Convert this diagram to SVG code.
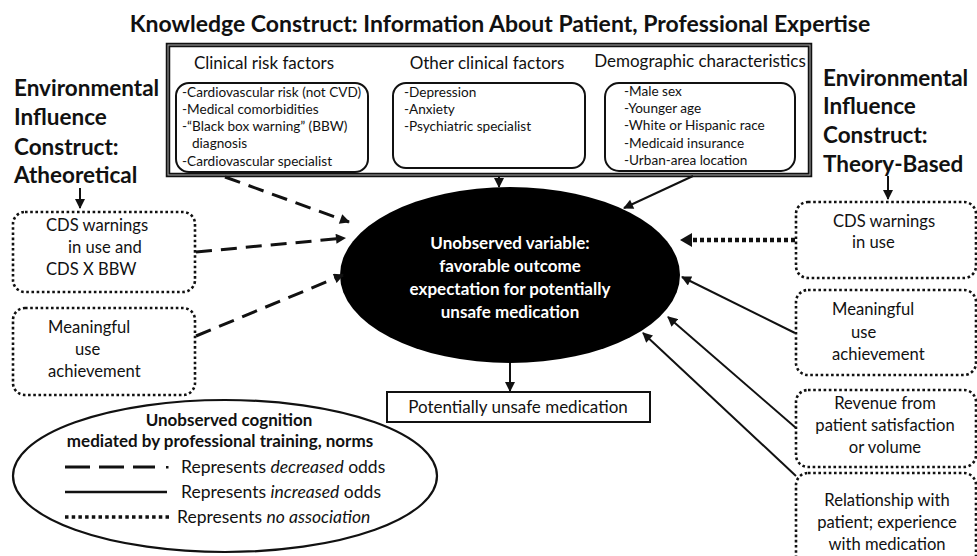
<svg xmlns="http://www.w3.org/2000/svg" width="977" height="556" viewBox="0 0 977 556">
  <style>
    text { font-family: Lato, "Liberation Sans", sans-serif; fill: #111; }
    .h { font-size: 22.5px; font-weight: bold; }
    .sub { font-size: 17px; }
    .item { font-size: 13.6px; }
    .box { font-size: 16.6px; }
    .inner { fill: none; stroke: #111; stroke-width: 2; }
    .dotbox { fill: #fff; stroke: #111; stroke-width: 2.6; stroke-dasharray: 2.6 2.6; }
    .dash { fill: none; stroke: #111; stroke-width: 3; stroke-dasharray: 16 9; }
    .solid { fill: none; stroke: #111; stroke-width: 2; }
    .dots { fill: none; stroke: #111; stroke-width: 4.5; stroke-dasharray: 4 3; }
    .mid { text-anchor: middle; }
    .core { font-size: 17px; font-weight: bold; fill: #fff; text-anchor: middle; }
  </style>
  <defs>
    <marker id="arrow" viewBox="0 0 10 10" refX="9" refY="5" markerWidth="11" markerHeight="10" markerUnits="userSpaceOnUse" orient="auto">
      <path d="M0,0 L10,5 L0,10 z" fill="#111"/>
    </marker>
  </defs>
  <rect width="977" height="556" fill="#fff"/>

  <!-- Knowledge construct header and container -->
  <g id="knowledge">
    <text class="h mid" x="500" y="32" style="font-size:23px">Knowledge Construct: Information About Patient, Professional Expertise</text>
    <rect x="168" y="45" width="642" height="130" fill="none" stroke="#111" stroke-width="4.5"/>
    <rect x="168" y="45" width="642" height="130" fill="none" stroke="#aaa" stroke-width="1"/>
  </g>

  <g id="clinical-risk">
    <text class="sub mid" x="264" y="69">Clinical risk factors</text>
    <rect class="inner" x="176" y="83" width="192" height="89" rx="13"/>
    <text class="item" x="182" y="97">-Cardiovascular risk (not CVD)</text>
    <text class="item" x="182" y="114">-Medical comorbidities</text>
    <text class="item" x="182" y="131">-“Black box warning” (BBW)</text>
    <text class="item" x="192" y="148">diagnosis</text>
    <text class="item" x="182" y="166">-Cardiovascular specialist</text>
  </g>

  <g id="other-clinical">
    <text class="sub mid" x="487" y="69">Other clinical factors</text>
    <rect class="inner" x="393" y="83" width="192" height="85" rx="13"/>
    <text class="item" x="404" y="97">-Depression</text>
    <text class="item" x="404" y="114">-Anxiety</text>
    <text class="item" x="404" y="131">-Psychiatric specialist</text>
  </g>

  <g id="demographic">
    <text class="sub mid" x="700" y="67">Demographic characteristics</text>
    <rect class="inner" x="605" y="83" width="190" height="88" rx="14"/>
    <text class="item" x="624" y="96">-Male sex</text>
    <text class="item" x="624" y="113">-Younger age</text>
    <text class="item" x="624" y="130">-White or Hispanic race</text>
    <text class="item" x="624" y="148">-Medicaid insurance</text>
    <text class="item" x="624" y="165">-Urban-area location</text>
  </g>

  <!-- Environmental construct headings -->
  <g id="atheoretical">
    <text class="h" x="14" y="96">Environmental</text>
    <text class="h" x="14" y="125">Influence</text>
    <text class="h" x="14" y="155">Construct:</text>
    <text class="h" x="14" y="183">Atheoretical</text>
  </g>
  <g id="theory-based">
    <text class="h" x="823" y="86">Environmental</text>
    <text class="h" x="823" y="114">Influence</text>
    <text class="h" x="823" y="143">Construct:</text>
    <text class="h" x="823" y="172">Theory-Based</text>
  </g>

  <!-- Atheoretical factors -->
  <g id="left-cds">
    <rect class="dotbox" x="13" y="212" width="182" height="80" rx="12"/>
    <text class="box" x="46" y="231">CDS warnings</text>
    <text class="box" x="68" y="253">in use and</text>
    <text class="box" x="46" y="275">CDS X BBW</text>
  </g>
  <g id="left-mu">
    <rect class="dotbox" x="13" y="308" width="182" height="87" rx="12"/>
    <text class="box" x="48" y="333">Meaningful</text>
    <text class="box" x="75" y="355">use</text>
    <text class="box" x="48" y="377">achievement</text>
  </g>

  <!-- Theory-based factors -->
  <g id="right-cds">
    <rect class="dotbox" x="796" y="202" width="180" height="76" rx="12"/>
    <text class="box mid" x="884" y="227">CDS warnings</text>
    <text class="box" x="852" y="248">in use</text>
  </g>
  <g id="right-mu">
    <rect class="dotbox" x="796" y="290" width="180" height="85" rx="12"/>
    <text class="box" x="832" y="315">Meaningful</text>
    <text class="box" x="851" y="338">use</text>
    <text class="box" x="832" y="360">achievement</text>
  </g>
  <g id="right-revenue">
    <rect class="dotbox" x="796" y="390" width="180" height="77" rx="12"/>
    <text class="box mid" x="885" y="409">Revenue from</text>
    <text class="box mid" x="885" y="431">patient satisfaction</text>
    <text class="box mid" x="885" y="453">or volume</text>
  </g>
  <g id="right-relationship">
    <rect class="dotbox" x="796" y="473" width="180" height="100" rx="12"/>
    <text class="box mid" x="887" y="506">Relationship with</text>
    <text class="box mid" x="887" y="528">patient; experience</text>
    <text class="box mid" x="887" y="550">with medication</text>
  </g>

  <!-- Central latent variable -->
  <g id="outcome-expectation">
    <ellipse cx="510" cy="275" rx="170" ry="88" fill="#000"/>
    <text class="core" x="510" y="249">Unobserved variable:</text>
    <text class="core" x="510" y="272">favorable outcome</text>
    <text class="core" x="510" y="295">expectation for potentially</text>
    <text class="core" x="510" y="318">unsafe medication</text>
  </g>

  <g id="unsafe-medication">
    <rect x="387" y="392" width="263" height="30" fill="#fff" stroke="#111" stroke-width="2"/>
    <text class="mid" x="518" y="413" style="font-size:17px">Potentially unsafe medication</text>
  </g>

  <!-- Legend -->
  <g id="legend">
    <ellipse cx="225" cy="476" rx="212" ry="76" fill="#fff" stroke="#111" stroke-width="2.2"/>
    <text class="mid" x="229" y="426" style="font-size:17px;font-weight:bold">Unobserved cognition</text>
    <text class="mid" x="220" y="447" style="font-size:17px;font-weight:bold">mediated by professional training, norms</text>
    <line x1="65" y1="467" x2="155" y2="467" class="dash" style="stroke-dasharray:25 9"/>
    <rect x="166" y="466" width="2.5" height="2.5" fill="#111"/>
    <text x="181" y="473" style="font-size:17.5px">Represents <tspan font-style="italic">decreased</tspan> odds</text>
    <line x1="65" y1="492" x2="167" y2="492" class="solid" style="stroke-width:2.5"/>
    <text x="181" y="498" style="font-size:17.5px">Represents <tspan font-style="italic">increased</tspan> odds</text>
    <line x1="65" y1="517" x2="171" y2="517" class="dots" style="stroke-width:3.5;stroke-dasharray:3.5 3.2"/>
    <text x="177" y="523" style="font-size:17.5px">Represents <tspan font-style="italic">no association</tspan></text>
  </g>

  <!-- Connectors -->
  <g id="connectors">
    <line class="dash" x1="225" y1="177" x2="349" y2="222" marker-end="url(#arrow)"/>
    <line class="dash" x1="196" y1="252" x2="345" y2="238" marker-end="url(#arrow)"/>
    <line class="dash" x1="196" y1="336" x2="343" y2="275" marker-end="url(#arrow)"/>
    <line class="solid" x1="499" y1="177" x2="499" y2="187" marker-end="url(#arrow)"/>
    <line class="solid" x1="693" y1="176" x2="624" y2="208" marker-end="url(#arrow)"/>
    <line class="solid" x1="80" y1="188" x2="80" y2="208" marker-end="url(#arrow)"/>
    <line class="solid" x1="888" y1="176" x2="888" y2="199" marker-end="url(#arrow)"/>
    <line class="dots" x1="795" y1="240" x2="690" y2="240"/>
    <path d="M692,233 L680,240 L692,247 z" fill="#111"/>
    <line class="solid" x1="795" y1="333" x2="682" y2="277" marker-end="url(#arrow)"/>
    <line class="solid" x1="796" y1="428" x2="668" y2="317" marker-end="url(#arrow)"/>
    <line class="solid" x1="796" y1="476" x2="643" y2="333" marker-end="url(#arrow)"/>
    <line class="solid" x1="510" y1="363" x2="510" y2="391" marker-end="url(#arrow)"/>
  </g>
</svg>
